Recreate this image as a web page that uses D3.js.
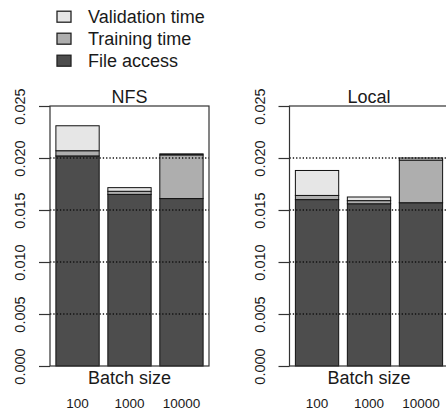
<!DOCTYPE html>
<html>
<head>
<meta charset="utf-8">
<title>Batch size timing</title>
<script src="https://cdn.jsdelivr.net/npm/d3@7"></script>
<style>
  body { margin: 0; background: #fff; }
  svg { display: block; font-family: "Liberation Sans", Arial, sans-serif; }
  text { fill: #1a1a1a; }
</style>
</head>
<body>
<script>
// data
var panels = ["NFS", "Local"];
var categories = ["100", "1000", "10000"];
var seriesNames = ["File access", "Training time", "Validation time"];
var seriesColors = ["#4D4D4D", "#AEAEAE", "#E6E6E6"];
var fileAccess = [[0.0202, 0.0165, 0.0161], [0.0160, 0.0156, 0.0157]];
var trainingTime = [[0.0005, 0.0003, 0.0042], [0.0004, 0.0003, 0.0041]];
var validationTime = [[0.0024, 0.00035, 0.0001], [0.0024, 0.00035, 0.0002]];
var yTicks = [0, 0.005, 0.010, 0.015, 0.020, 0.025];

var W = 446, H = 413;
var svg = d3.select("body").append("svg").attr("width", W).attr("height", H);

// layout of the two panels
var panelLeft = [50, 289.5], panelWidth = 159;
var y = d3.scaleLinear().domain([0, 0.025]).range([366, 106]);
var keys = ["file", "train", "valid"];

panels.forEach(function(name, p) {
  var rows = categories.map(function(c, i) {
    return { cat: c, file: fileAccess[p][i], train: trainingTime[p][i], valid: validationTime[p][i] };
  });
  var stacked = d3.stack().keys(keys)(rows);

  var x = d3.scaleBand().domain(categories)
    .range([panelLeft[p], panelLeft[p] + panelWidth])
    .paddingInner(0.2 / 1.2).paddingOuter(0.1133);

  var g = svg.append("g");

  // stacked bars
  g.selectAll("g.layer").data(stacked).enter().append("g")
    .attr("fill", function(d, i) { return seriesColors[i]; })
    .selectAll("rect").data(function(d) { return d; }).enter().append("rect")
    .attr("x", function(d) { return x(d.data.cat); })
    .attr("width", x.bandwidth())
    .attr("y", function(d) { return y(d[1]); })
    .attr("height", function(d) { return y(d[0]) - y(d[1]); })
    .attr("stroke", "#111").attr("stroke-width", 1);

  // dotted grid lines over the bars
  g.selectAll("line.grid").data(yTicks.slice(1, 5)).enter().append("line")
    .attr("x1", panelLeft[p]).attr("x2", panelLeft[p] + panelWidth)
    .attr("y1", function(d) { return y(d); }).attr("y2", function(d) { return y(d); })
    .attr("stroke", "#111").attr("stroke-width", 1.3).attr("stroke-dasharray", "1.3,2");

  // box
  g.append("rect")
    .attr("x", panelLeft[p]).attr("y", y(0.025))
    .attr("width", panelWidth).attr("height", y(0) - y(0.025))
    .attr("fill", "none").attr("stroke", "#333").attr("stroke-width", 1.2);

  // y axis (ticks + rotated labels)
  var axis = d3.axisLeft(y).tickValues(yTicks).tickFormat(d3.format(".3f"))
    .tickSize(11).tickPadding(0);
  var ag = g.append("g").attr("transform", "translate(" + panelLeft[p] + ",0)").call(axis);
  ag.select(".domain").remove();
  ag.selectAll(".tick line").attr("stroke", "#333").attr("stroke-width", 1.2);
  ag.selectAll(".tick text")
    .attr("x", 0).attr("dy", null)
    .attr("text-anchor", "middle")
    .attr("transform", "translate(-25,0) rotate(-90)")
    .attr("font-size", 14.5).attr("font-family", null)
    .attr("fill", "#1a1a1a");

  var cx = panelLeft[p] + panelWidth / 2;
  g.append("text").attr("x", cx).attr("y", 103).attr("text-anchor", "middle")
    .attr("font-size", 18).text(name);
  g.append("text").attr("x", cx).attr("y", 384).attr("text-anchor", "middle")
    .attr("font-size", 18).text("Batch size");

  // category labels
  g.selectAll("text.cat").data(categories).enter().append("text")
    .attr("x", function(d) { return x(d) + x.bandwidth() / 2; })
    .attr("y", 408).attr("text-anchor", "middle")
    .attr("font-size", 13.5).text(function(d) { return d; });
});

// legend, top entry is the top of the stack
var legendItems = seriesNames.map(function(n, i) { return { name: n, color: seriesColors[i] }; }).reverse();
var lg = svg.append("g").selectAll("g").data(legendItems).enter().append("g")
  .attr("transform", function(d, i) { return "translate(57," + (16.7 + i * 22) + ")"; });
lg.append("rect").attr("x", 0).attr("y", -5.5).attr("width", 14).attr("height", 11)
  .attr("fill", function(d) { return d.color; }).attr("stroke", "#222").attr("stroke-width", 1.3);
lg.append("text").attr("x", 31).attr("y", 6.5).attr("font-size", 18).text(function(d) { return d.name; });
</script>
</body>
</html>
